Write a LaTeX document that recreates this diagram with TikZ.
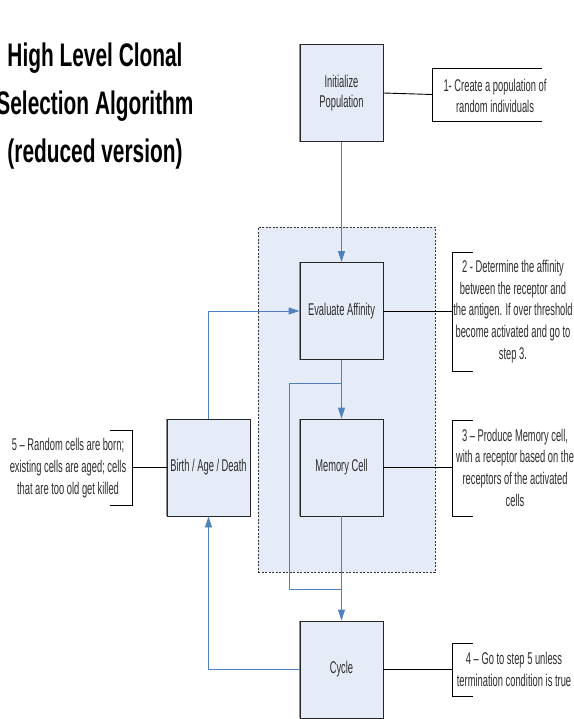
\documentclass[tikz,border=0pt]{standalone}
\usepackage{fontspec}
\setmainfont{Liberation Sans}
\newfontfamily\bodyfont[FakeStretch=0.55]{Liberation Sans}
\newfontfamily\titlefont[FakeStretch=0.64]{Liberation Sans}
\usetikzlibrary{arrows.meta}
\definecolor{boxfill}{RGB}{230,236,247}
\definecolor{flow}{RGB}{79,129,189}
\definecolor{txt}{RGB}{45,45,45}
\tikzset{
  stepbox/.style={draw=black!85, line width=0.9pt, fill=boxfill, minimum width=83pt, minimum height=97pt, inner sep=0pt,
    font=\bodyfont\fontsize{17}{20}\selectfont, text=txt, align=center},
  boxside/.style={draw=black!45, line width=1.2pt},
  grpbox/.style={draw=black!80, line width=0.8pt, dash pattern=on 2pt off 1.5pt, fill=boxfill, minimum width=177pt, minimum height=345pt, inner sep=0pt},
  notetext/.style={font=\bodyfont\fontsize{17}{21.7}\selectfont, text=txt, align=center, inner sep=0pt},
  bracketline/.style={draw=black, line width=0.9pt},
  link/.style={draw=black, line width=0.9pt},
  flowline/.style={draw=flow, line width=0.9pt},
  flowarrow/.style={flowline, -{Triangle[width=7pt,length=11pt]}},
}
\begin{document}
\begin{tikzpicture}[x=1pt,y=-1pt]
\useasboundingbox (0,0) rectangle (573,719);

% title
\node[font=\titlefont\bfseries\fontsize{32.6}{48}\selectfont, align=center, inner sep=0pt] (title) at (95,106)
  {High Level Clonal\\Selection Algorithm\\(reduced version)};

% group container
\node[grpbox] (grp) at (346.5,399.5) {};

% process boxes
\node[stepbox] (init)  at (341.5,93)    {Initialize\\Population};
\node[stepbox] (eval)  at (341.5,311)   {Evaluate Affinity};
\node[stepbox] (mem)   at (341.5,467.5) {Memory Cell};
\node[stepbox] (cycle) at (341.5,669.5) {Cycle};
\node[stepbox] (birth) at (208.5,467.5) {Birth / Age / Death};
\foreach \n in {init,eval,mem,cycle,birth} \draw[boxside] (\n.north west) -- (\n.south west);

% notes
\node[notetext] (t1) at (495,96)    {1- Create a population of\\random individuals};
\node[notetext] (t2) at (513,311.5) {2 - Determine the affinity\\between the receptor and\\the antigen. If over threshold\\become activated and go to\\step 3.};
\node[notetext] (t3) at (515,467.5) {3 – Produce Memory cell,\\with a receptor based on the\\receptors of the activated\\cells};
\node[notetext] (t4) at (514,669.5) {4 – Go to step 5 unless\\termination condition is true};
\node[notetext] (t5) at (68,468)    {5 – Random cells are born;\\existing cells are aged; cells\\that are too old get killed};

% brackets
\draw[bracketline] (542,68) -- (432,68) -- (432,121) -- (542,121);
\draw[bracketline] (473,252) -- (452,252) -- (452,371) -- (473,371);
\draw[bracketline] (473,420) -- (452,420) -- (452,516) -- (473,516);
\draw[bracketline] (473,643) -- (452,643) -- (452,696) -- (473,696);
\draw[bracketline] (110,430) -- (132,430) -- (132,505) -- (110,505);
\coordinate (b1) at (432,94.5);
\coordinate (b2) at (452,311);
\coordinate (b3) at (452,467.5);
\coordinate (b4) at (452,669.5);
\coordinate (b5) at (132,467.5);

\draw[link] (init.east) -- (b1);
\draw[link] (eval.east) -- (b2);
\draw[link] (mem.east) -- (b3);
\draw[link] (cycle.east) -- (b4);
\draw[link] (birth.west) -- (b5);

% flow
\coordinate (split) at (341.5,383);
\coordinate (byTop) at (289,383);
\coordinate (byBot) at (289,589);
\coordinate (join) at (341.5,589);
\draw[flowarrow] (init.south) -- (eval.north);
\draw[flowarrow] (eval.south) -- (mem.north);
\draw[flowline] (split) -- (byTop) -- (byBot) -- (join);
\draw[flowarrow] (mem.south) -- (cycle.north);
\draw[flowarrow] (cycle.west) -| (birth.south);
\draw[flowarrow] (birth.north) |- (eval.west);
\end{tikzpicture}
\end{document}
